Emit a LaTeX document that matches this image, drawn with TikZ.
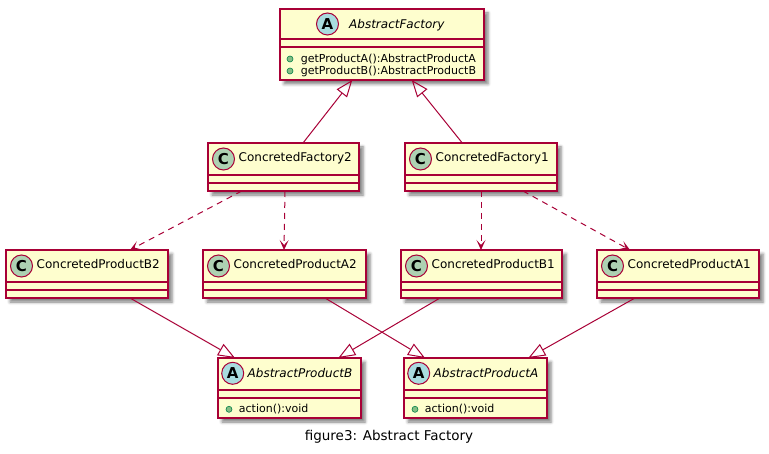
\documentclass[tikz,border=0pt]{standalone}
\usepackage{fontspec}
\setmainfont{DejaVu Sans}
\usepackage{tikz}
\usetikzlibrary{arrows.meta,shadows.blur,positioning}

\definecolor{umlred}{HTML}{A80036}
\definecolor{umlfill}{HTML}{FEFECE}
\definecolor{cspot}{HTML}{ADD1B2}
\definecolor{aspot}{HTML}{A9DCDF}
\definecolor{pubfill}{HTML}{84BE84}
\definecolor{pubdraw}{HTML}{038048}

\begin{document}
\begin{tikzpicture}[x=1pt, y=-1pt,
  classbox/.style={draw=umlred, fill=umlfill, line width=1.3pt, anchor=north west,
    inner sep=0pt, outer sep=0pt,
    blur shadow={shadow xshift=4pt, shadow yshift=-4pt, shadow blur radius=3pt, shadow opacity=50}},
  umlline/.style={draw=umlred, line width=1.3pt},
  spot/.style={circle, draw=umlred, line width=1pt, minimum size=22pt, inner sep=0pt,
    font=\fontsize{15}{15}\selectfont\bfseries},
  title/.style={anchor=base west, inner sep=0pt, font=\fontsize{12}{14}\selectfont},
  member/.style={anchor=base west, inner sep=0pt, font=\fontsize{11}{13}\selectfont},
  pub/.style={circle, draw=pubdraw, fill=pubfill, line width=0.6pt, minimum size=6pt, inner sep=0pt},
  extends/.style={draw=umlred, line width=1pt, -{Triangle[open, length=17pt, width=13pt]}},
  uses/.style={draw=umlred, line width=1pt, dash pattern=on 6pt off 5pt,
    -{Stealth[length=10pt, width=9pt, inset=5pt]}},
  caption/.style={inner sep=0pt, font=\fontsize{13.5}{16}\selectfont}]
\useasboundingbox (0,0) rectangle (769,454);

% abstract factory
\node[classbox, minimum width=204pt, minimum height=71pt] (af) at (280,9) {};
\node[spot, fill=aspot] (af-c) at ([xshift=47.5pt, yshift=-15pt]af.north west) {A};
\node[title, font=\fontsize{12}{14}\selectfont\itshape] (af-t) at ([xshift=69pt, yshift=-19.3pt]af.north west) {AbstractFactory};
\draw[umlline] ([yshift=-30pt]af.north west) -- ([yshift=-30pt]af.north east);
\draw[umlline] ([yshift=-38pt]af.north west) -- ([yshift=-38pt]af.north east);
\node[pub] (af-p1) at ([xshift=10pt, yshift=-50pt]af.north west) {};
\node[pub] (af-p2) at ([xshift=10pt, yshift=-62pt]af.north west) {};
\node[member] (af-m1) at ([xshift=20.7pt, yshift=-53.7pt]af.north west) {getProductA():AbstractProductA};
\node[member] (af-m2) at ([xshift=20.7pt, yshift=-65.7pt]af.north west) {getProductB():AbstractProductB};

% concrete classes
\foreach \id/\x/\y/\w/\name in {cf2/208/143/151/ConcretedFactory2, cf1/405/143/152/ConcretedFactory1,
    b2/6/250/162/ConcretedProductB2, a2/203/250/163/ConcretedProductA2,
    b1/401/250/161/ConcretedProductB1, a1/597/250/162/ConcretedProductA1}{
  \node[classbox, minimum width=\w pt, minimum height=48pt] (\id) at (\x,\y) {};
  \node[spot, fill=cspot] (\id-c) at ([xshift=15.5pt, yshift=-16pt]\id.north west) {C};
  \node[title] (\id-t) at ([xshift=30.5pt, yshift=-19pt]\id.north west) {\name};
  \draw[umlline] ([yshift=-32pt]\id.north west) -- ([yshift=-32pt]\id.north east);
  \draw[umlline] ([yshift=-40pt]\id.north west) -- ([yshift=-40pt]\id.north east);
}

% abstract products
\foreach \id/\x/\name in {apb/218/AbstractProductB, apa/404/AbstractProductA}{
  \node[classbox, minimum width=143pt, minimum height=60pt] (\id) at (\x,358) {};
  \node[spot, fill=aspot] (\id-c) at ([xshift=14.7pt, yshift=-15.3pt]\id.north west) {A};
  \node[title, font=\fontsize{12}{14}\selectfont\itshape] (\id-t) at ([xshift=29.5pt, yshift=-19.3pt]\id.north west) {\name};
  \draw[umlline] ([yshift=-32pt]\id.north west) -- ([yshift=-32pt]\id.north east);
  \draw[umlline] ([yshift=-40pt]\id.north west) -- ([yshift=-40pt]\id.north east);
  \node[pub] (\id-p) at ([xshift=11pt, yshift=-51.3pt]\id.north west) {};
  \node[member] (\id-m) at ([xshift=20.7pt, yshift=-54.7pt]\id.north west) {action():void};
}

% inheritance
\draw[extends] ([xshift=95pt]cf2.north west) -- ([xshift=72.3pt]af.south west);
\draw[extends] ([xshift=57.3pt]cf1.north west) -- ([xshift=131.7pt]af.south west);
\draw[extends] ([xshift=124pt]b2.south west) -- ([xshift=17pt]apb.north west);
\draw[extends] ([xshift=122pt]a2.south west) -- ([xshift=21pt]apa.north west);
\draw[extends] ([xshift=39pt]b1.south west) -- ([xshift=120.3pt]apb.north west);
\draw[extends] ([xshift=38pt]a1.south west) -- ([xshift=124.3pt]apa.north west);

% dependencies
\draw[uses] ([xshift=33.7pt]cf2.south west) -- ([xshift=124pt]b2.north west);
\draw[uses] ([xshift=77pt]cf2.south west) -- ([xshift=81pt]a2.north west);
\draw[uses] ([xshift=76pt]cf1.south west) -- ([xshift=80pt]b1.north west);
\draw[uses] ([xshift=118pt]cf1.south west) -- ([xshift=33pt]a1.north west);

\node[caption] (cap) at (389,437) {figure3: Abstract Factory};
\end{tikzpicture}
\end{document}
